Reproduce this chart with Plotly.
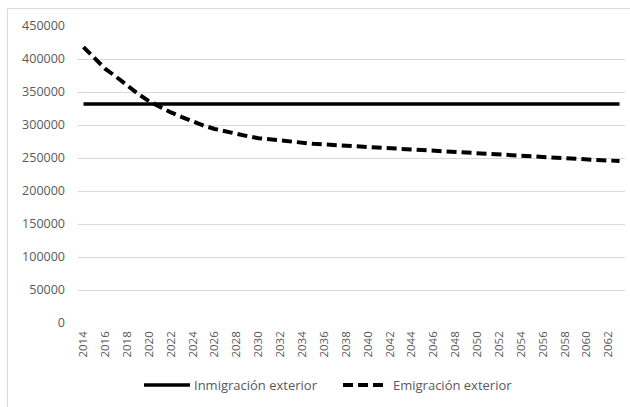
import plotly.graph_objects as go

# Years of the projection
years = list(range(2014, 2064))

# Flujos anuales (personas)
inmigracion = [332000] * len(years)
emigracion = [
    418000, 401000, 385000, 373000, 360000, 347000, 336000, 327000, 319000, 312000,
    305000, 299000, 294000, 290000, 286000, 283000, 280000, 278000, 276000, 274500,
    273000, 271500, 270500, 269500, 268500, 267500, 266500, 265500, 264500, 263500,
    262500, 261500, 260500, 259500, 258500, 257500, 256500, 255500, 254500, 253500,
    252500, 251700, 250900, 250100, 249300, 248500, 247700, 246900, 246200, 245500,
]

x_ticks = list(range(2014, 2063, 2))
y_ticks = list(range(0, 450001, 50000))

series_names = ["Inmigración exterior", "Emigración exterior"]

FONT = "Open Sans"
GRAY_TXT = "#595959"
GRID = "#d9d9d9"
DASH = "10px,5px"

W, H = 630, 407
L, R, T, B = 78, 5, 26, 84
pw, ph = W - L - R, H - T - B


def px_x(p):
    return (p - L) / pw


def px_y(p):
    return (H - B - p) / ph


fig = go.Figure()
fig.add_trace(go.Scatter(
    x=years, y=inmigracion, mode="lines", name=series_names[0],
    line=dict(color="black", width=3.5), showlegend=False,
))
fig.add_trace(go.Scatter(
    x=years, y=emigracion, mode="lines", name=series_names[1],
    line=dict(color="black", width=4, dash=DASH), showlegend=False,
))

shapes = [
    # chart frame (left and top edges)
    dict(type="line", xref="paper", yref="paper", x0=px_x(7.5), x1=px_x(7.5),
         y0=px_y(8.5), y1=px_y(420), line=dict(color=GRID, width=1)),
    dict(type="line", xref="paper", yref="paper", x0=px_x(7.5), x1=px_x(640),
         y0=px_y(8.5), y1=px_y(8.5), line=dict(color=GRID, width=1)),
    # legend samples
    dict(type="line", xref="paper", yref="paper", x0=px_x(144), x1=px_x(190),
         y0=px_y(385), y1=px_y(385), line=dict(color="black", width=3.5)),
    dict(type="line", xref="paper", yref="paper", x0=px_x(343), x1=px_x(386),
         y0=px_y(385), y1=px_y(385), line=dict(color="black", width=4, dash=DASH)),
]

annotations = [
    dict(xref="paper", yref="paper", x=px_x(192), y=px_y(385), text=series_names[0],
         showarrow=False, xanchor="left", yanchor="middle",
         font=dict(family=FONT, size=13, color=GRAY_TXT)),
    dict(xref="paper", yref="paper", x=px_x(391), y=px_y(385), text=series_names[1],
         showarrow=False, xanchor="left", yanchor="middle",
         font=dict(family=FONT, size=13, color=GRAY_TXT)),
]

fig.update_layout(
    width=W, height=H,
    margin=dict(l=L, r=R, t=T, b=B),
    paper_bgcolor="white", plot_bgcolor="white",
    font=dict(family=FONT, color=GRAY_TXT),
    shapes=shapes, annotations=annotations,
    showlegend=False,
)
fig.update_xaxes(
    range=[2013.5, 2063.5], tickmode="array", tickvals=x_ticks,
    ticktext=[str(v) for v in x_ticks], tickangle=-90,
    tickfont=dict(family=FONT, size=11.5, color=GRAY_TXT),
    showgrid=False, zeroline=False, showline=False, ticks="", ticklabelstandoff=5,
)
fig.update_yaxes(
    range=[0, 450000], tickmode="array", tickvals=y_ticks,
    ticktext=[str(v) for v in y_ticks],
    tickfont=dict(family=FONT, size=12.5, color=GRAY_TXT),
    showgrid=True, gridcolor=GRID, gridwidth=1, zeroline=False,
    showline=False, ticks="", ticklabelstandoff=12,
)

fig.write_html("out.html")
